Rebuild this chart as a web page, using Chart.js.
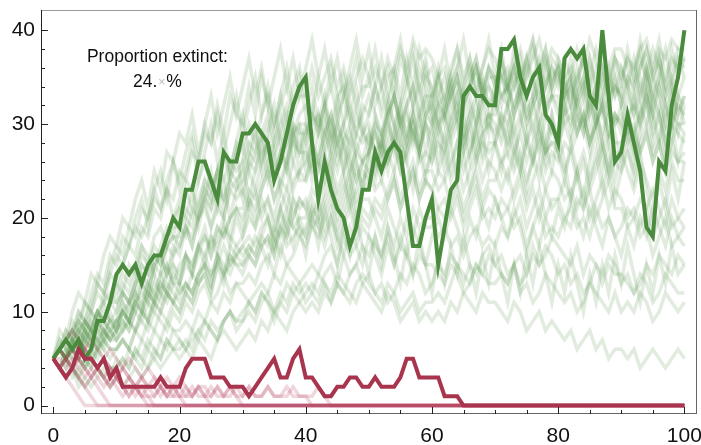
<!DOCTYPE html>
<html><head><meta charset="utf-8">
<script src="https://cdn.jsdelivr.net/npm/chart.js@4.4.0/dist/chart.umd.min.js"></script>
<style>html,body{margin:0;padding:0;background:#fff;}#wrap{position:relative;width:701px;height:445px;}</style>
</head><body><div id="wrap"><canvas id="c" width="701" height="445"></canvas></div>
<script>
// ---------- data ----------
const xTickLabels = [0, 20, 40, 60, 80, 100];
const yTickLabels = [0, 10, 20, 30, 40];
const annotationTitle = "Proportion extinct:";
const proportionExtinct = "24.";

const highlightSurvivor = [5,
 6,7,6,7,5,6,9,9,11,14,
 15,14,15,13,15,16,16,18,20,19,
 23,23,26,26,24,22,27,26,26,29,
 29,30,29,28,24,26,29,32,34,35,
 28,22,26,23,21,20,17,19,23,23,
 27,25,27,28,27,22,17,17,20,22,
 15,19,23,24,33,34,33,33,32,32,
 38,38,39,35,33,35,36,31,30,28,
 37,38,37,38,33,32,40,33,26,27,
 31,28,25,19,18,26,25,32,35,40];

const highlightExtinct = [5,
 4,3,4,6,5,5,4,5,3,4,
 2,2,2,2,2,2,3,2,2,2,
 4,5,5,5,3,3,3,2,2,2,
 1,2,3,4,5,3,3,5,6,3,
 3,2,1,1,2,2,3,3,2,2,
 3,2,2,2,3,5,5,3,3,3,
 3,1,1,1,0,0,0,0,0,0,
 0,0,0,0,0,0,0,0,0,0,
 0,0,0,0,0,0,0,0,0,0,
 0,0,0,0,0,0,0,0,0,0];

const survivor01 = [5, 6,5,7,8,7,9,10,9,11,12, 14,13,15,17,15,18,19,17,20,21, 23,21,24,26,23,25,27,25,28,27, 30,28,31,33,30,32,34,31,33,33, 36,33,35,37,34,36,33,35,37,35, 32,34,31,33,30,28,31,29,32,30, 33,31,34,36,33,35,37,34,36,34, 37,34,38,35,37,39,36,34,37,36, 33,35,32,30,33,31,29,32,30,32, 35,33,36,38,35,37,33,35,33,35];
const survivor02 = [5, 4,6,5,7,6,8,7,9,8,9, 11,10,12,14,12,15,16,14,17,16, 19,17,20,22,19,21,20,23,24,22, 25,23,26,28,25,27,26,29,30,28, 31,29,32,30,33,34,31,29,32,31, 34,32,35,36,33,37,34,38,35,36, 33,35,32,34,31,33,30,34,32,33, 30,32,29,31,28,30,27,31,29,29, 32,30,33,35,31,34,32,36,33,34, 37,35,38,34,36,39,35,37,36,37];
const survivor03 = [5, 6,5,4,6,7,6,8,7,9,8, 10,9,11,13,11,14,12,15,13,13, 16,14,17,19,16,18,20,18,21,19, 22,20,23,25,22,24,23,26,24,24, 27,25,28,30,27,29,28,31,29,30, 27,29,26,28,25,27,30,28,25,27, 30,28,31,33,29,32,30,32,34,32, 35,33,36,34,37,35,32,36,33,35, 32,34,31,29,33,30,32,28,31,30, 33,31,34,32,35,33,30,34,31,33];
const survivor04 = [5, 6,7,6,5,7,8,6,7,8,7, 9,8,10,11,9,12,11,13,12,11, 13,12,14,16,14,15,17,15,16,15, 17,16,18,20,17,19,21,19,20,20, 22,20,23,25,22,24,21,23,25,24, 26,24,27,25,28,26,29,27,30,28, 25,27,24,26,23,25,27,24,26,25, 23,25,22,24,21,23,20,23,21,22, 24,22,25,27,24,26,28,25,27,27, 25,23,26,24,22,25,23,26,24,24];
const survivor05 = [5, 6,7,8,7,9,8,10,11,9,10, 12,11,13,15,14,16,15,17,18,18, 20,19,21,23,21,24,22,25,24,25, 27,26,28,30,27,29,31,28,30,30, 28,26,29,27,30,28,25,27,26,27, 29,27,31,33,30,32,34,31,33,33, 35,33,36,38,35,37,34,36,38,37, 35,36,34,37,33,35,32,34,36,34, 37,35,38,36,39,37,34,36,38,38, 36,34,37,35,38,36,33,35,37,36];
const survivor06 = [5, 4,5,6,5,4,6,5,7,6,6, 7,6,8,9,8,10,9,8,10,9, 11,10,12,13,11,12,14,12,13,13, 14,13,15,16,14,17,15,16,18,17, 19,18,20,22,19,21,23,20,22,22, 20,18,21,19,17,20,18,21,19,19, 21,20,22,24,21,23,25,22,24,24, 26,24,27,25,28,26,29,27,28,28, 30,28,31,29,32,30,33,31,30,31, 29,30,27,29,26,28,25,28,26,27];
const survivor07 = [5, 6,7,6,8,9,8,10,9,11,11, 12,11,13,14,13,15,16,14,16,17, 19,17,20,21,19,22,20,23,22,23, 21,23,20,22,19,21,23,20,22,21, 23,22,24,26,23,25,27,24,26,27, 29,27,30,28,31,29,32,30,33,31, 29,31,28,30,27,29,26,28,27,28, 30,28,31,33,30,32,34,31,33,33, 31,32,29,31,28,30,32,29,31,29, 31,29,32,30,33,31,28,30,32,31];
const survivor08 = [5, 4,5,3,4,5,4,6,5,4,4, 5,4,6,5,7,6,5,7,6,6, 7,6,8,9,8,7,9,10,9,9, 10,9,11,12,10,11,13,12,11,12, 13,12,14,15,13,16,14,15,17,16, 18,16,19,17,20,18,21,19,20,20, 18,19,17,18,16,18,19,17,18,17, 19,18,20,22,19,21,23,20,22,22, 20,21,19,20,18,21,19,20,18,19, 21,20,22,21,23,21,19,22,20,21];
const survivor09 = [5, 6,5,7,6,8,7,9,8,7,8, 10,9,11,12,11,13,12,14,15,14, 16,15,17,18,16,19,18,20,21,20, 22,21,23,25,22,24,26,23,25,26, 28,26,29,31,28,30,32,29,31,33, 31,29,32,30,28,31,29,27,30,29, 32,30,33,35,32,34,36,33,35,35, 33,34,31,33,30,32,34,31,33,31, 34,32,35,37,34,36,33,35,37,36, 34,32,35,33,31,34,32,30,33,32];
const survivor10 = [5, 4,3,4,3,2,3,4,3,2,3, 2,3,4,3,4,5,4,5,6,5, 6,5,7,6,5,7,8,7,6,7, 8,7,9,8,10,9,8,10,11,10, 11,10,12,11,13,12,11,13,14,13, 12,11,13,12,10,11,12,10,11,11, 12,11,13,15,14,13,15,14,16,15, 14,13,15,12,13,11,12,14,13,12, 11,12,10,11,13,12,11,10,12,10, 11,10,12,11,9,10,12,11,10,11];
const survivor11 = [5, 6,7,6,8,7,9,8,10,9,9, 10,11,12,11,13,12,14,15,13,15, 16,15,17,16,18,17,19,18,17,18, 20,19,21,22,20,23,21,24,25,24, 26,25,27,29,26,28,30,27,29,28, 30,29,31,33,30,32,34,31,35,34, 32,33,30,32,29,31,33,30,31,30, 28,30,27,29,26,28,30,27,28,27, 25,27,24,26,23,25,27,24,26,25, 27,25,28,30,27,29,26,28,30,29];
const survivor12 = [5, 6,5,6,7,6,5,7,6,8,7, 8,9,8,10,9,11,10,12,11,12, 13,12,14,15,13,16,14,17,16,17, 18,17,19,20,18,21,19,22,21,22, 20,22,19,21,18,20,22,19,21,20, 22,21,23,25,22,24,26,23,25,25, 23,24,21,23,20,22,24,21,23,22, 20,21,19,20,17,19,21,18,19,18, 20,19,22,21,23,20,22,24,21,21, 19,20,18,19,16,18,20,17,18,17];
const survivor13 = [5, 6,7,6,8,9,8,10,9,11,10, 12,11,13,15,14,16,15,17,18,17, 19,18,20,22,21,23,22,24,23,24, 26,25,27,28,26,29,27,30,29,29, 31,30,32,34,31,33,35,32,34,34, 36,34,37,35,38,36,39,37,38,37, 35,36,33,35,32,34,36,33,34,33, 35,34,36,38,35,37,39,36,38,37, 35,36,34,37,35,38,36,34,37,35, 37,36,38,39,36,38,37,39,38,38];
const survivor14 = [5, 4,5,6,5,4,5,6,7,6,6, 7,6,5,7,6,8,7,9,8,8, 9,8,10,9,11,10,12,11,13,12, 11,12,13,12,14,13,15,14,13,14, 15,14,16,17,15,18,16,17,19,18, 17,16,18,15,17,16,14,16,15,15, 14,13,15,14,12,13,15,14,13,13, 14,13,15,16,14,17,15,16,18,17, 16,15,17,14,16,15,13,15,14,14, 13,12,14,13,11,12,14,13,12,12];
const survivor15 = [5, 6,7,8,7,9,8,10,9,8,9, 10,9,11,10,12,11,13,12,14,13, 15,14,16,18,17,19,18,20,21,21, 23,22,24,26,24,27,25,28,27,27, 25,26,24,27,25,28,26,24,26,25, 27,26,28,30,27,29,31,28,31,30, 32,31,33,35,32,34,36,33,36,35, 33,34,32,34,31,33,30,32,33,32, 30,31,29,31,28,30,27,29,28,28, 30,29,31,33,30,32,29,31,30,30];
const survivor16 = [5, 6,5,7,6,8,7,9,8,7,8, 9,8,10,9,11,10,12,11,13,12, 13,12,14,15,13,16,14,15,17,16, 17,16,18,17,19,18,20,19,18,19, 21,20,22,24,21,23,25,22,24,25, 23,24,22,24,21,23,25,22,24,23, 25,24,26,28,25,27,29,26,28,28, 26,27,25,27,24,26,28,25,27,26, 28,27,29,31,28,30,32,29,31,30, 28,29,27,29,26,28,25,27,26,26];
const survivor17 = [5, 4,5,4,3,4,5,4,3,4,4, 5,4,6,5,4,6,5,7,6,7, 6,7,8,7,9,8,9,10,9,10, 11,10,12,11,10,12,11,13,12,13, 12,11,13,12,14,13,12,11,13,12, 11,10,12,11,9,10,11,9,10,9, 10,9,11,10,12,11,10,12,11,11, 10,9,11,10,8,9,10,8,9,8, 7,8,6,7,8,6,7,5,6,6, 5,6,4,5,6,5,4,5,6,5];
const survivor18 = [5, 6,7,8,9,8,10,9,11,12,11, 13,12,14,16,15,17,16,18,19,19, 21,20,22,24,23,25,24,26,25,26, 28,27,29,31,28,30,32,29,31,32, 30,31,29,31,28,30,27,29,28,29, 27,28,26,28,25,27,29,26,27,26, 28,27,29,31,28,30,32,29,31,31, 33,32,34,36,33,35,37,34,36,35, 33,34,32,34,31,33,35,32,34,33, 31,32,30,32,29,31,28,30,29,28];
const survivor19 = [5, 6,5,6,7,6,8,7,8,7,7, 8,9,8,10,9,11,10,12,11,10, 12,11,13,14,12,15,13,16,15,15, 16,15,17,18,16,19,17,18,19,18, 20,19,21,23,20,22,24,21,23,24, 26,25,27,29,26,28,30,27,31,32, 30,31,29,31,28,30,27,29,30,29, 31,30,32,34,31,33,35,32,35,36, 34,35,33,35,32,34,31,33,34,33, 35,34,36,38,35,37,34,36,38,37];
const survivor20 = [5, 6,5,6,5,7,6,7,6,5,6, 7,6,8,7,9,8,10,9,11,10, 12,11,13,14,12,15,14,16,15,14, 16,15,17,18,16,19,18,20,22,21, 19,20,18,20,17,19,21,18,20,19, 21,20,22,24,21,23,25,22,24,23, 21,22,20,22,19,21,23,20,21,20, 22,21,23,25,22,24,26,23,25,24, 22,23,21,23,20,22,24,21,23,22, 20,21,19,21,18,20,22,19,20,19];
const survivor21 = [5, 7,6,9,8,11,10,13,12,15,17, 16,19,18,21,20,23,25,22,26,24, 27,29,26,30,28,32,29,33,31,30, 34,31,35,32,29,33,30,34,36,33, 31,35,32,36,33,30,34,37,33,35, 38,34,36,33,37,35,32,36,34,31, 35,38,34,36,39,35,37,33,36,34, 32,35,31,34,37,33,36,38,34,37, 35,32,36,33,37,34,38,35,33,36, 34,37,33,36,32,35,38,34,37,35];
const survivor22 = [5, 6,8,7,10,9,12,14,13,16,15, 18,17,20,22,19,23,21,24,26,23, 25,28,24,27,30,26,29,25,28,31, 27,30,26,29,32,28,25,29,27,30, 26,29,32,28,31,27,24,28,26,29, 25,28,31,27,30,26,23,27,24,28, 31,27,30,33,29,26,30,27,31,28, 25,29,26,30,33,29,32,28,31,27, 24,28,25,22,26,29,25,28,24,27, 30,26,29,33,28,31,27,30,26,29];
const survivor23 = [5, 6,4,7,5,8,6,9,7,10,8, 11,9,12,10,13,11,14,12,15,13, 16,14,17,15,18,16,19,17,20,18, 21,19,22,20,17,21,18,22,19,16, 20,17,21,18,15,19,16,20,17,14, 18,15,19,16,13,17,14,18,15,12, 16,13,17,14,18,15,12,16,13,17, 14,11,15,12,16,13,17,14,11,15, 12,16,13,10,14,11,15,12,16,13, 17,14,11,15,12,16,13,17,14,15];
const survivor24 = [5, 8,7,10,12,11,14,13,16,18,17, 20,19,22,24,21,25,23,27,26,29, 28,31,27,30,33,29,32,35,31,34, 37,33,36,32,35,38,34,37,33,36, 39,35,38,34,37,33,36,39,35,38, 34,37,33,36,39,35,38,34,37,33, 36,32,35,38,34,37,33,36,39,35, 38,34,37,33,36,39,35,38,34,36, 33,37,34,38,35,32,36,33,37,34, 38,35,39,36,33,37,34,38,35,37];
const survivor25 = [5, 4,6,5,3,5,4,6,8,7,9, 8,11,10,13,12,15,14,17,16,19, 18,21,20,23,22,25,21,24,27,23, 26,29,25,28,24,27,30,26,29,25, 28,31,27,24,28,25,29,26,23,27, 24,28,25,29,32,28,31,27,30,26, 29,25,28,24,27,23,26,29,25,28, 31,27,30,26,23,27,24,28,25,29, 26,22,25,21,24,27,23,26,22,25, 28,24,27,23,20,24,21,25,22,26];
const survivor26 = [5, 6,8,7,9,11,10,12,11,14,13, 15,17,16,19,18,21,20,23,22,25, 24,27,26,29,28,31,27,30,33,29, 32,35,31,34,30,33,36,32,35,31, 34,30,33,29,32,35,31,34,30,27, 31,28,32,35,31,34,37,33,36,32, 35,31,34,30,27,31,28,32,29,33, 36,32,35,31,28,32,29,26,30,27, 31,34,30,33,29,32,28,31,35,32, 29,33,30,34,31,28,32,29,33,30];
const survivor27 = [5, 6,5,7,6,8,7,6,8,9,8, 10,9,11,10,12,11,13,12,11,13, 12,14,13,15,14,16,15,14,16,17, 16,18,17,15,18,16,19,17,20,18, 21,19,17,20,18,16,19,17,15,18, 16,14,17,15,18,16,19,17,15,18, 20,18,21,19,17,20,18,21,19,22, 20,18,21,19,16,19,17,20,18,21, 19,22,20,18,21,19,17,20,18,16, 19,17,20,18,21,19,17,20,18,19];
const survivor28 = [5, 7,6,8,10,9,11,13,12,14,16, 15,17,19,18,20,22,21,23,20,22, 24,23,21,24,22,25,27,24,26,28, 25,27,29,26,28,31,28,30,27,29, 32,29,31,28,30,33,30,32,29,31, 34,31,33,30,32,35,32,34,31,33, 30,32,35,31,34,36,33,35,32,34, 37,34,36,33,35,38,35,37,34,36, 33,35,32,34,37,34,36,33,35,32, 34,31,33,36,33,35,32,34,31,33];
const survivor29 = [5, 4,3,4,2,3,2,3,4,3,5, 4,6,5,4,6,5,7,6,8,7, 6,8,7,9,8,7,9,10,8,9, 11,10,12,11,9,11,10,12,13,11, 12,14,13,11,13,12,14,15,13,14, 12,13,11,12,14,13,15,14,12,13, 15,14,16,15,13,15,14,16,17,15, 16,14,15,13,14,16,15,17,16,14, 15,13,14,12,13,15,14,16,15,13, 14,12,13,15,14,16,15,14,16,15];
const survivor30 = [5, 6,5,7,9,8,10,9,12,11,13, 12,15,14,17,16,14,17,19,18,21, 20,23,19,22,25,21,24,20,23,26, 22,25,28,24,27,23,26,29,25,28, 24,27,30,26,29,25,22,26,23,27, 30,26,29,33,29,32,28,31,27,30, 26,29,25,28,31,27,30,34,30,33, 29,32,28,25,29,26,30,27,31,28, 32,29,33,30,27,31,28,25,29,26, 30,27,31,35,31,34,30,33,29,32];

const extinct01 = [5, 4,3,4,3,2,1,0,0,0,0, 0,0,0,0,0,0,0,0,0,0, 0,0,0,0,0,0,0,0,0,0, 0,0,0,0,0,0,0,0,0,0, 0,0,0,0,0,0,0,0,0,0, 0,0,0,0,0,0,0,0,0,0, 0,0,0,0,0,0,0,0,0,0, 0,0,0,0,0,0,0,0,0,0, 0,0,0,0,0,0,0,0,0,0, 0,0,0,0,0,0,0,0,0,0];
const extinct02 = [5, 6,5,4,5,4,3,4,3,2,3, 2,1,2,1,0,0,0,0,0,0, 0,0,0,0,0,0,0,0,0,0, 0,0,0,0,0,0,0,0,0,0, 0,0,0,0,0,0,0,0,0,0, 0,0,0,0,0,0,0,0,0,0, 0,0,0,0,0,0,0,0,0,0, 0,0,0,0,0,0,0,0,0,0, 0,0,0,0,0,0,0,0,0,0, 0,0,0,0,0,0,0,0,0,0];
const extinct03 = [5, 4,5,4,3,2,3,2,1,0,0, 0,0,0,0,0,0,0,0,0,0, 0,0,0,0,0,0,0,0,0,0, 0,0,0,0,0,0,0,0,0,0, 0,0,0,0,0,0,0,0,0,0, 0,0,0,0,0,0,0,0,0,0, 0,0,0,0,0,0,0,0,0,0, 0,0,0,0,0,0,0,0,0,0, 0,0,0,0,0,0,0,0,0,0, 0,0,0,0,0,0,0,0,0,0];
const extinct04 = [5, 6,7,6,5,6,5,4,5,4,3, 4,3,2,3,2,2,1,2,1,1, 0,0,0,0,0,0,0,0,0,0, 0,0,0,0,0,0,0,0,0,0, 0,0,0,0,0,0,0,0,0,0, 0,0,0,0,0,0,0,0,0,0, 0,0,0,0,0,0,0,0,0,0, 0,0,0,0,0,0,0,0,0,0, 0,0,0,0,0,0,0,0,0,0, 0,0,0,0,0,0,0,0,0,0];
const extinct05 = [5, 4,3,2,1,0,0,0,0,0,0, 0,0,0,0,0,0,0,0,0,0, 0,0,0,0,0,0,0,0,0,0, 0,0,0,0,0,0,0,0,0,0, 0,0,0,0,0,0,0,0,0,0, 0,0,0,0,0,0,0,0,0,0, 0,0,0,0,0,0,0,0,0,0, 0,0,0,0,0,0,0,0,0,0, 0,0,0,0,0,0,0,0,0,0, 0,0,0,0,0,0,0,0,0,0];
const extinct06 = [5, 5,4,5,4,3,4,3,2,3,2, 1,2,1,2,1,1,2,1,2,1, 1,2,1,1,2,1,1,2,1,0, 0,0,0,0,0,0,0,0,0,0, 0,0,0,0,0,0,0,0,0,0, 0,0,0,0,0,0,0,0,0,0, 0,0,0,0,0,0,0,0,0,0, 0,0,0,0,0,0,0,0,0,0, 0,0,0,0,0,0,0,0,0,0, 0,0,0,0,0,0,0,0,0,0];
const extinct07 = [5, 6,5,6,7,6,5,4,5,4,3, 4,3,2,3,2,3,2,1,2,1, 2,1,2,2,1,2,1,1,2,1, 2,1,1,2,1,1,2,1,1,1, 1,2,1,0,0,0,0,0,0,0, 0,0,0,0,0,0,0,0,0,0, 0,0,0,0,0,0,0,0,0,0, 0,0,0,0,0,0,0,0,0,0, 0,0,0,0,0,0,0,0,0,0, 0,0,0,0,0,0,0,0,0,0];
const extinct08 = [5, 4,5,6,5,4,3,4,3,2,3, 2,1,2,1,1,0,0,0,0,0, 0,0,0,0,0,0,0,0,0,0, 0,0,0,0,0,0,0,0,0,0, 0,0,0,0,0,0,0,0,0,0, 0,0,0,0,0,0,0,0,0,0, 0,0,0,0,0,0,0,0,0,0, 0,0,0,0,0,0,0,0,0,0, 0,0,0,0,0,0,0,0,0,0, 0,0,0,0,0,0,0,0,0,0];
const extinct09 = [5, 6,7,8,7,6,7,6,5,6,5, 4,5,4,3,4,3,2,3,2,3, 2,1,2,1,0,0,0,0,0,0, 0,0,0,0,0,0,0,0,0,0, 0,0,0,0,0,0,0,0,0,0, 0,0,0,0,0,0,0,0,0,0, 0,0,0,0,0,0,0,0,0,0, 0,0,0,0,0,0,0,0,0,0, 0,0,0,0,0,0,0,0,0,0, 0,0,0,0,0,0,0,0,0,0];
const extinct10 = [5, 4,5,4,5,6,5,4,3,4,3, 2,3,2,1,2,1,2,1,1,2, 1,1,2,1,1,2,1,2,1,1, 2,1,1,2,1,1,1,2,1,1, 0,0,0,0,0,0,0,0,0,0, 0,0,0,0,0,0,0,0,0,0, 0,0,0,0,0,0,0,0,0,0, 0,0,0,0,0,0,0,0,0,0, 0,0,0,0,0,0,0,0,0,0, 0,0,0,0,0,0,0,0,0,0];

const survivorPaths = [survivor01,survivor02,survivor03,survivor04,survivor05,survivor06,survivor07,survivor08,survivor09,survivor10,
  survivor11,survivor12,survivor13,survivor14,survivor15,survivor16,survivor17,survivor18,survivor19,survivor20,
  survivor21,survivor22,survivor23,survivor24,survivor25,survivor26,survivor27,survivor28,survivor29,survivor30];
const extinctPaths = [extinct01,extinct02,extinct03,extinct04,extinct05,extinct06,extinct07,extinct08,extinct09,extinct10];

// ---------- chart ----------
const all = [highlightSurvivor, highlightExtinct, ...survivorPaths, ...extinctPaths];
all.forEach((a, i) => { if (a.length !== 101) throw new Error('array ' + i + ' has length ' + a.length); });

const toPts = arr => arr.map((v, i) => ({ x: i, y: v }));
const FONT = '"Liberation Sans", Arial, sans-serif';

const datasets = [];
datasets.push({ data: toPts(highlightExtinct), borderColor: '#a8344e', borderWidth: 4, order: 0 });
datasets.push({ data: toPts(highlightSurvivor), borderColor: '#4b8b3d', borderWidth: 4, order: 1 });
extinctPaths.forEach(p => datasets.push({ data: toPts(p), borderColor: 'rgba(175,55,85,0.2)', borderWidth: 3.5, order: 2 }));
survivorPaths.forEach(p => datasets.push({ data: toPts(p), borderColor: 'rgba(75,140,65,0.17)', borderWidth: 3.5, order: 3 }));

const framePlugin = {
  id: 'frame',
  afterDatasetsDraw(chart) {
    const { ctx, chartArea: a, scales: { x, y } } = chart;
    ctx.save();
    ctx.lineWidth = 1;
    ctx.strokeStyle = '#999'; ctx.beginPath(); ctx.moveTo(a.left, a.top + 0.5); ctx.lineTo(a.right, a.top + 0.5); ctx.stroke();
    ctx.strokeStyle = '#666'; ctx.beginPath(); ctx.moveTo(a.right - 0.5, a.top); ctx.lineTo(a.right - 0.5, a.bottom); ctx.stroke();
    ctx.strokeStyle = '#666'; ctx.beginPath(); ctx.moveTo(a.left, a.bottom - 0.5); ctx.lineTo(a.right, a.bottom - 0.5); ctx.stroke();
    ctx.strokeStyle = '#222'; ctx.beginPath(); ctx.moveTo(a.left + 0.5, a.top); ctx.lineTo(a.left + 0.5, a.bottom); ctx.stroke();
    ctx.strokeStyle = '#222';
    for (let v = 0; v <= 100; v += 5) {
      const px = Math.round(x.getPixelForValue(v)) + 0.5;
      const len = v % 20 === 0 ? 7 : 4;
      ctx.beginPath(); ctx.moveTo(px, a.bottom); ctx.lineTo(px, a.bottom - len); ctx.stroke();
    }
    for (let v = 0; v <= 40; v += 2) {
      const py = Math.round(y.getPixelForValue(v)) + 0.5;
      const len = v % 10 === 0 ? 7 : 4;
      ctx.beginPath(); ctx.moveTo(a.left, py); ctx.lineTo(a.left + len, py); ctx.stroke();
    }
    // annotation
    const fs = 17.5;
    const cx = x.getPixelForValue(16.5);
    ctx.font = fs + 'px ' + FONT;
    ctx.fillStyle = '#111';
    ctx.textAlign = 'center'; ctx.textBaseline = 'middle';
    ctx.fillText(annotationTitle, cx, y.getPixelForValue(37.15));
    const yy = y.getPixelForValue(34.5);
    const p1 = proportionExtinct, p2 = '\u00d7', p3 = '%';
    ctx.font = fs + 'px ' + FONT; const w1 = ctx.measureText(p1).width, w3 = ctx.measureText(p3).width;
    ctx.font = '12px ' + FONT; const w2 = ctx.measureText(p2).width + 2;
    const sx = cx - (w1 + w2 + w3) / 2;
    ctx.textAlign = 'left';
    ctx.font = fs + 'px ' + FONT; ctx.fillStyle = '#111'; ctx.fillText(p1, sx, yy);
    ctx.font = '12px ' + FONT; ctx.fillStyle = '#bbb'; ctx.fillText(p2, sx + w1 + 1, yy + 1);
    ctx.font = fs + 'px ' + FONT; ctx.fillStyle = '#111'; ctx.fillText(p3, sx + w1 + w2, yy);
    ctx.restore();
  }
};

new Chart(document.getElementById('c'), {
  type: 'line',
  data: { datasets },
  options: {
    responsive: false, animation: false, devicePixelRatio: 1,
    layout: { padding: { top: 10, right: 4, left: 0, bottom: 0 } },
    elements: { point: { radius: 0, hoverRadius: 0 }, line: { tension: 0, fill: false, borderJoinStyle: 'miter', borderCapStyle: 'butt' } },
    plugins: { legend: { display: false }, tooltip: { enabled: false } },
    events: [],
    scales: {
      x: {
        type: 'linear', min: -1.95, max: 102,
        grid: { display: false, drawTicks: false }, border: { display: false },
        afterBuildTicks: s => { s.ticks = xTickLabels.map(v => ({ value: v })); },
        afterFit: s => { s.height = 31; s.paddingLeft = 0; s.paddingRight = 0; },
        ticks: { padding: 10, color: '#111', font: { family: FONT, size: 21 }, maxRotation: 0, autoSkip: false }
      },
      y: {
        type: 'linear', min: -0.9, max: 42.16,
        grid: { display: false, drawTicks: false }, border: { display: false },
        afterBuildTicks: s => { s.ticks = yTickLabels.map(v => ({ value: v })); },
        afterFit: s => { s.width = 41; s.paddingTop = 0; s.paddingBottom = 0; },
        ticks: { padding: 6, color: '#111', font: { family: FONT, size: 21 }, autoSkip: false }
      }
    }
  },
  plugins: [framePlugin]
});
</script>
</body></html>
